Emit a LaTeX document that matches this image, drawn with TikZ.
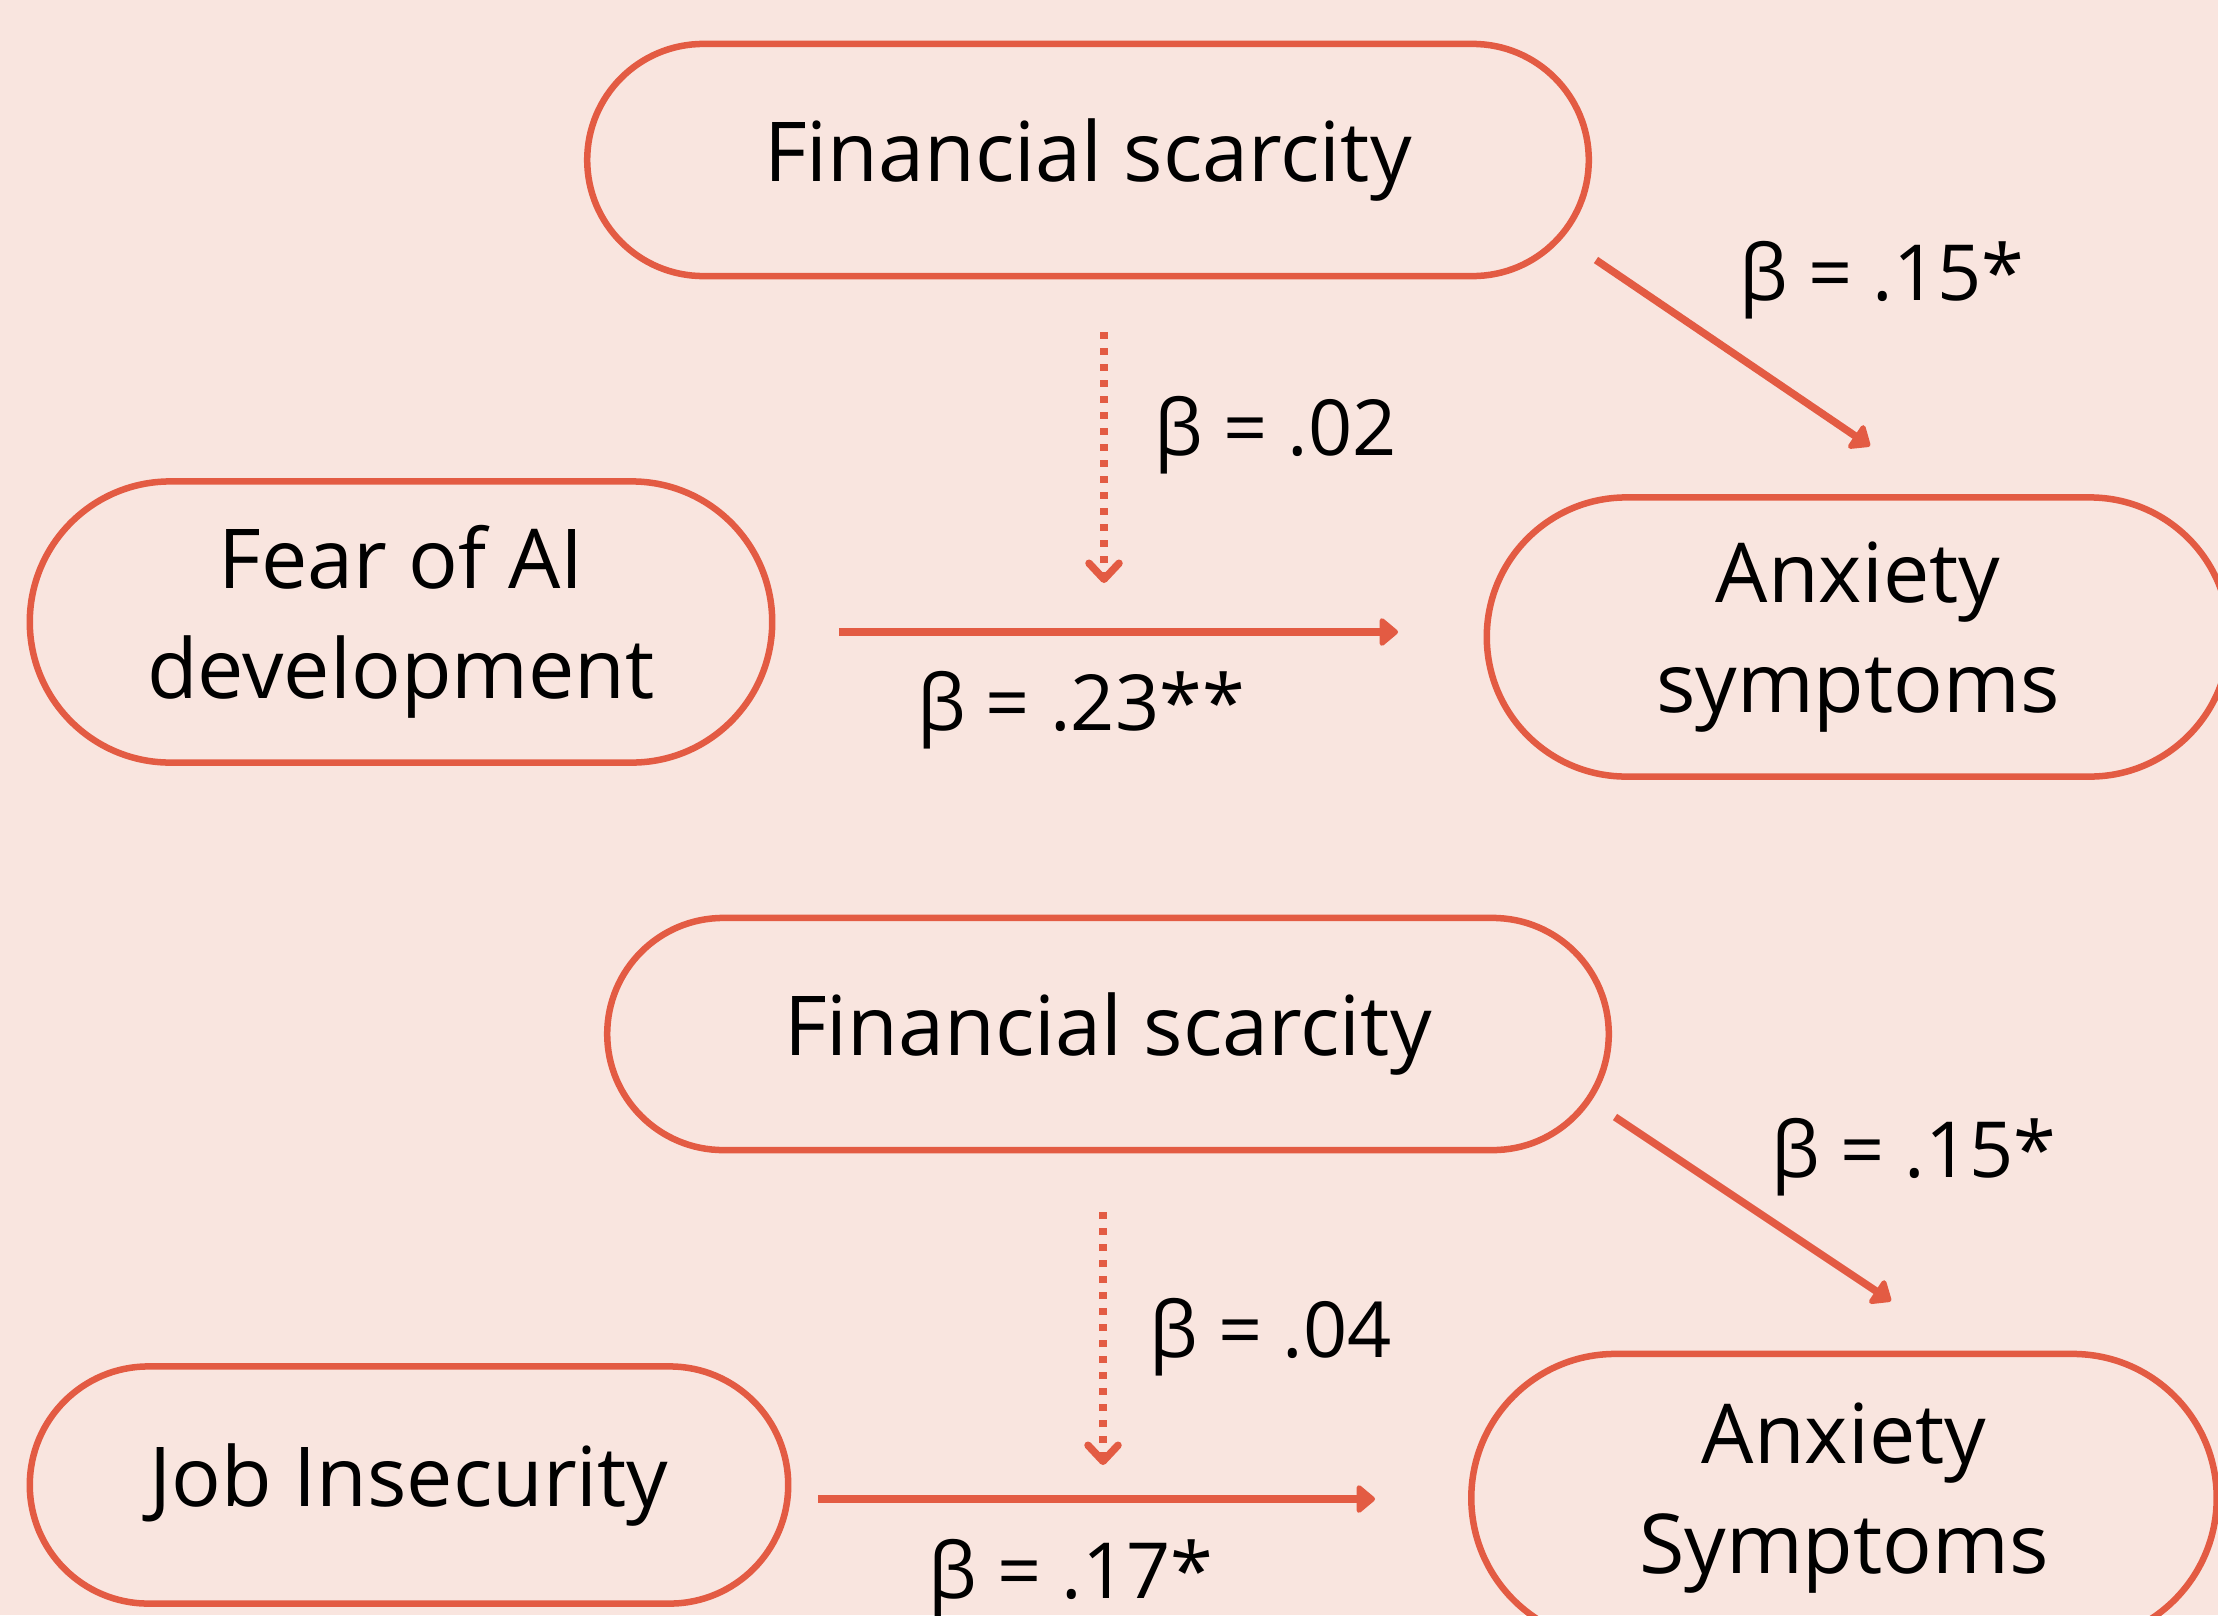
\documentclass[tikz,border=0pt]{standalone}
\usepackage{fontspec}
\setmainfont{Open Sans}
\usetikzlibrary{shapes.misc,arrows.meta}
\definecolor{bgpink}{HTML}{F9E5DF}
\definecolor{coral}{HTML}{E35B43}
\tikzset{
  var/.style={draw=coral, line width=0.065cm, rounded rectangle, align=center,
    inner sep=0pt, font=\fontsize{23.5}{31.3}\selectfont},
  coef/.style={anchor=base, inner sep=0pt, font=\fontsize{22}{26}\selectfont},
  effect/.style={draw=coral, line width=0.075cm,
    -{Triangle[round,length=0.2cm,width=0.32cm]}},
  moder/.style={draw=coral, line width=0.075cm, dash pattern=on 0.07cm off 0.09cm,
    -{Straight Barb[length=0.16cm,width=0.3cm,line cap=round,line join=round]}}
}
\begin{document}
\begin{tikzpicture}[x=0.01cm,y=-0.01cm]
  \useasboundingbox (0,0) rectangle (2218,1615);
  \fill[bgpink] (0,0) rectangle (2218,1615);
  \clip (0,0) rectangle (2218,1615);

  % upper model
  \node[var, minimum width=10.01cm, minimum height=2.32cm] (fs1) at (1088,160) {Financial scarcity};
  \node[var, minimum width=7.42cm, minimum height=2.81cm] (fear) at (401,622) {Fear of AI\\development};
  \node[var, minimum width=7.42cm, minimum height=2.79cm] (anx1) at (1858,637) {Anxiety\\symptoms};

  % lower model
  \node[var, minimum width=10.01cm, minimum height=2.32cm] (fs2) at (1108,1034) {Financial scarcity};
  \node[var, minimum width=7.58cm, minimum height=2.37cm] (job) at (409,1485) {Job Insecurity};
  \node[var, minimum width=7.45cm, minimum height=2.88cm] (anx2) at (1844,1498) {Anxiety\\Symptoms};

  \coordinate (d1s) at (1596,260);  \coordinate (d1e) at (1870,446);
  \coordinate (h1s) at (839,632);   \coordinate (h1e) at (1398,632);
  \coordinate (m1s) at (1104,332);  \coordinate (m1e) at (1104,583);
  \coordinate (d2s) at (1615,1117); \coordinate (d2e) at (1891,1301);
  \coordinate (h2s) at (818,1499);  \coordinate (h2e) at (1375,1499);
  \coordinate (m2s) at (1103,1212); \coordinate (m2e) at (1103,1465);

  \draw[effect] (d1s) -- (d1e);
  \draw[effect] (h1s) -- (h1e);
  \draw[moder] (m1s) -- (m1e);
  \draw[effect] (d2s) -- (d2e);
  \draw[effect] (h2s) -- (h2e);
  \draw[moder] (m2s) -- (m2e);

  \node[coef] (b1) at (1882,300) {β = .15*};
  \node[coef] (b2) at (1276,455) {β = .02};
  \node[coef] (b3) at (1081,730) {β = .23**};
  \node[coef] (b4) at (1914,1177) {β = .15*};
  \node[coef] (b5) at (1271,1357) {β = .04};
  \node[coef] (b6) at (1071,1598) {β = .17*};
\end{tikzpicture}
\end{document}
